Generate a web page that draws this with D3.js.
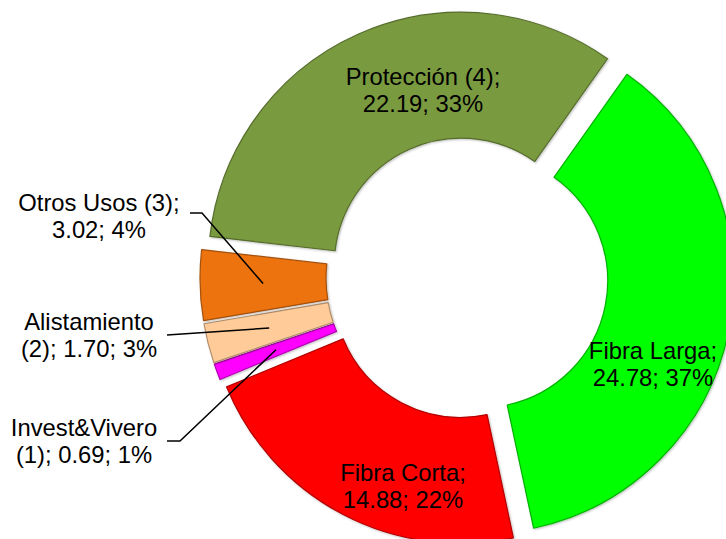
<!DOCTYPE html>
<html>
<head>
<meta charset="utf-8">
<script src="https://cdn.jsdelivr.net/npm/d3@7"></script>
<style>
  html, body { margin: 0; padding: 0; background: #fff; }
  svg { display: block; }
  text { font-family: "Liberation Sans", Arial, sans-serif; fill: #000; }
</style>
</head>
<body>
<div id="chart"></div>
<script>
const names = ['Fibra Larga', 'Fibra Corta', 'Invest&Vivero (1)', 'Alistamiento (2)', 'Otros Usos (3)', 'Protección (4)'];
const values = [24.78, 14.88, 0.69, 1.70, 3.02, 22.19];
const colors = ['#00ff00', '#ff0000', '#ff00ff', '#ffcc99', '#ec7311', '#7a9a3f'];

const WIDTH = 726;
const HEIGHT = 539;
const CENTER = { x: 467, y: 278 };
const INNER_RADIUS = 127;
const OUTER_RADIUS = 253;
const EXPLODE = 14;
const START_ANGLE = (35.3 * Math.PI) / 180;
const FONT_SIZE = 23.8;
const LINE_HEIGHT = 27;
const WRAP_WIDTH = 166;

// label block: x = text centre, y = first baseline; leader = elbow points before the slice centroid
const labelLayout = [
  { x: 653, y: 359 },
  { x: 403, y: 481 },
  { x: 84, y: 436, leader: [[167, 441], [180, 441]] },
  { x: 89, y: 330, leader: [[167, 335]] },
  { x: 99, y: 211, leader: [[190, 213], [202, 213]] },
  { x: 423, y: 85 },
];

const total = d3.sum(values);
const data = names.map((name, i) => ({
  name,
  value: values[i],
  color: colors[i],
  pct: Math.round((values[i] / total) * 100),
  layout: labelLayout[i],
}));

const svg = d3
  .select('#chart')
  .append('svg')
  .attr('width', WIDTH)
  .attr('height', HEIGHT);

const defs = svg.append('defs');
const shadow = defs
  .append('filter')
  .attr('id', 'soft')
  .attr('x', '-10%')
  .attr('y', '-10%')
  .attr('width', '120%')
  .attr('height', '120%');
shadow
  .append('feDropShadow')
  .attr('dx', 1)
  .attr('dy', 1)
  .attr('stdDeviation', 1.2)
  .attr('flood-color', '#000')
  .attr('flood-opacity', 0.25);

const pie = d3
  .pie()
  .sort(null)
  .value((d) => d.value)
  .startAngle(START_ANGLE)
  .endAngle(START_ANGLE + 2 * Math.PI);

const arc = d3.arc().innerRadius(INNER_RADIUS).outerRadius(OUTER_RADIUS);

const arcs = pie(data);

// offset of each exploded slice along its bisector
const sliceOffset = (d) => {
  const mid = (d.startAngle + d.endAngle) / 2;
  return [EXPLODE * Math.sin(mid), -EXPLODE * Math.cos(mid)];
};

const slices = svg
  .append('g')
  .attr('transform', `translate(${CENTER.x}, ${CENTER.y})`);

slices
  .selectAll('path')
  .data(arcs)
  .join('path')
  .attr('transform', (d) => `translate(${sliceOffset(d)})`)
  .attr('d', arc)
  .attr('fill', (d) => d.data.color)
  .attr('stroke', (d) => d3.color(d.data.color).darker(1))
  .attr('stroke-width', 1.2)
  .attr('stroke-linejoin', 'round')
  .attr('filter', 'url(#soft)');

// leader lines from label to slice centroid
const leaderPoints = (d) => {
  const [ox, oy] = sliceOffset(d);
  const [cx, cy] = arc.centroid(d);
  return [...d.data.layout.leader, [CENTER.x + ox + cx, CENTER.y + oy + cy]];
};

svg
  .append('g')
  .selectAll('path')
  .data(arcs.filter((d) => d.data.layout.leader))
  .join('path')
  .attr('d', (d) => d3.line()(leaderPoints(d)))
  .attr('fill', 'none')
  .attr('stroke', '#000')
  .attr('stroke-width', 1.5);

// data labels, wrapped like the spreadsheet does
const labels = svg
  .append('g')
  .selectAll('text')
  .data(arcs)
  .join('text')
  .attr('x', (d) => d.data.layout.x)
  .attr('y', (d) => d.data.layout.y)
  .attr('text-anchor', 'middle')
  .style('font-size', `${FONT_SIZE}px`);

labels.each(function (d) {
  const text = d3.select(this);
  const words = `${d.data.name}; ${d.data.value.toFixed(2)}; ${d.data.pct}%`.split(' ');
  const lines = [];
  let current = [];
  const probe = text.append('tspan');
  words.forEach((word) => {
    const attempt = [...current, word].join(' ');
    probe.text(attempt);
    if (current.length && probe.node().getComputedTextLength() > WRAP_WIDTH) {
      lines.push(current.join(' '));
      current = [word];
    } else {
      current.push(word);
    }
  });
  lines.push(current.join(' '));
  probe.remove();

  lines.forEach((line, i) => {
    text
      .append('tspan')
      .attr('x', d.data.layout.x)
      .attr('y', d.data.layout.y + i * LINE_HEIGHT)
      .text(line);
  });
});
</script>
</body>
</html>
